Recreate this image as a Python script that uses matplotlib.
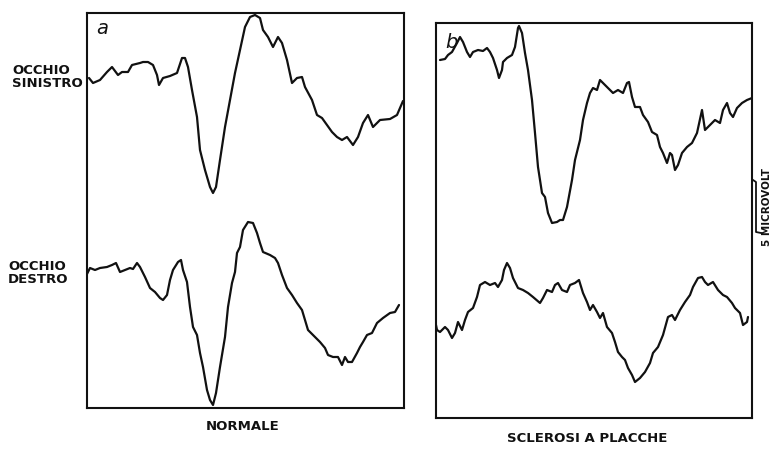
import matplotlib
matplotlib.use("Agg")
import matplotlib.pyplot as plt

# Visual evoked potentials: time from stimulus (ms), amplitude (microvolt)
# Panel a: normal subject
normal_left_t = [2, 6, 13, 20, 25, 31, 35, 41, 45, 53, 56, 61, 66, 70, 72, 76, 83, 90, 95, 98,
                 101, 105, 110, 113, 118, 123, 126, 129, 133, 138, 143, 148, 153, 158, 163, 168,
                 173, 176, 181, 186, 191, 195, 200, 205, 210, 215, 218, 225, 230, 235, 240, 245,
                 250, 255, 260, 266, 271, 276, 281, 286, 293, 303, 310, 316]
normal_left_uv = [0.5, 0.0, 0.3, 1.1, 1.6, 0.8, 1.1, 1.1, 1.8, 2.0, 2.1, 2.1, 1.8, 0.8, -0.2, 0.5,
                  0.7, 1.0, 2.5, 2.5, 1.6, -0.7, -3.4, -6.7, -8.7, -10.4, -11.0, -10.4, -7.7, -4.4,
                  -1.7, 1.0, 3.3, 5.6, 6.6, 6.8, 6.5, 5.3, 4.6, 3.6, 4.6, 4.0, 2.3, 0.0, 0.5, 0.6,
                  -0.4, -1.7, -3.2, -3.5, -4.2, -4.9, -5.4, -5.7, -5.4, -6.2, -5.4, -4.0, -3.2,
                  -4.4, -3.7, -3.6, -3.2, -1.8]

normal_right_t = [0, 3, 8, 13, 20, 25, 29, 33, 38, 43, 46, 50, 53, 58, 63, 68, 73, 76, 80, 83, 86,
                  91, 94, 96, 100, 103, 106, 110, 113, 116, 120, 123, 126, 129, 133, 138, 141, 145,
                  148, 150, 153, 156, 161, 166, 170, 173, 176, 183, 188, 191, 195, 200, 205, 210,
                  215, 218, 221, 226, 233, 238, 241, 246, 251, 255, 258, 261, 265, 270, 273, 276,
                  280, 285, 290, 296, 303, 308, 312]
normal_right_uv = [-0.6, 0.0, -0.2, 0.0, 0.1, 0.3, 0.5, -0.4, -0.2, 0.0, -0.1, 0.5, 0.1, -0.9,
                   -2.0, -2.4, -3.0, -3.2, -2.7, -1.2, -0.2, 0.6, 0.8, -0.2, -1.4, -3.9, -5.9,
                   -6.7, -8.5, -9.9, -12.2, -13.2, -13.7, -12.5, -9.9, -6.9, -3.9, -1.5, -0.4,
                   1.5, 2.1, 3.8, 4.6, 4.5, 3.5, 2.5, 1.6, 1.3, 1.0, 0.5, -0.7, -2.0, -2.7, -3.5,
                   -4.2, -5.2, -6.2, -6.7, -7.4, -8.0, -8.7, -8.9, -8.9, -9.7, -8.9, -9.4, -9.4,
                   -8.5, -7.9, -7.4, -6.7, -6.5, -5.5, -5.0, -4.5, -4.4, -3.7]

# Panel b: multiple sclerosis
ms_left_t = [4, 9, 12, 16, 21, 24, 27, 31, 34, 37, 42, 47, 51, 54, 57, 61, 63, 66, 67, 71, 76,
             79, 82, 83, 86, 89, 92, 96, 99, 102, 106, 109, 112, 116, 121, 124, 127, 131, 136,
             139, 144, 147, 151, 154, 157, 161, 164, 167, 172, 177, 182, 187, 191, 193, 196,
             199, 204, 207, 212, 216, 221, 224, 227, 231, 234, 236, 239, 242, 246, 251, 256,
             261, 266, 269, 274, 279, 284, 287, 291, 294, 297, 301, 306, 311, 316]
ms_left_uv = [0.0, 0.1, 0.5, 0.8, 1.7, 2.3, 1.8, 0.8, 0.3, 0.8, 1.0, 0.9, 1.2, 0.8, 0.2, -1.0,
              -1.8, -1.0, -0.2, 0.2, 0.5, 1.3, 3.2, 3.4, 2.7, 0.7, -1.0, -4.0, -7.3, -10.7,
              -13.3, -13.7, -15.3, -16.3, -16.2, -16.0, -16.0, -14.7, -12.0, -10.0, -8.0, -6.0,
              -4.3, -3.3, -2.8, -3.0, -2.0, -2.3, -2.8, -3.3, -3.0, -3.3, -2.3, -2.2, -3.7,
              -4.7, -4.7, -5.5, -6.2, -7.2, -7.5, -8.7, -9.3, -10.3, -9.3, -9.5, -11.0, -10.5,
              -9.3, -8.7, -8.3, -7.3, -5.0, -7.0, -6.5, -6.0, -6.3, -5.0, -4.3, -5.3, -5.7,
              -4.8, -4.3, -4.0, -3.8]

ms_right_t = [0, 1, 4, 9, 12, 16, 19, 22, 26, 29, 32, 37, 41, 44, 49, 54, 59, 62, 66, 68, 71,
              74, 77, 82, 87, 92, 97, 104, 107, 111, 116, 119, 122, 126, 131, 134, 139, 143,
              147, 151, 154, 157, 161, 164, 167, 171, 176, 179, 182, 186, 189, 192, 196, 199,
              204, 209, 214, 217, 222, 227, 232, 236, 239, 244, 249, 254, 257, 262, 266, 269,
              272, 277, 282, 287, 291, 296, 299, 304, 307, 311, 312]
ms_right_uv = [-0.5, -1.0, -1.2, -0.7, -1.0, -1.8, -1.3, -0.2, -1.0, 0.0, 0.8, 1.2, 2.3, 3.5,
               3.8, 3.5, 3.7, 3.3, 4.0, 5.0, 5.7, 5.2, 4.2, 3.2, 3.0, 2.7, 2.3, 1.7, 2.2, 3.0,
               2.8, 3.5, 3.7, 3.0, 2.8, 3.5, 3.7, 4.0, 2.7, 1.8, 1.0, 1.5, 0.8, 0.2, 0.7, -0.7,
               -1.3, -2.2, -3.2, -3.7, -4.0, -4.8, -5.5, -6.2, -5.8, -5.2, -4.3, -3.3, -2.7,
               -1.5, 0.3, 0.5, 0.0, 1.0, 1.8, 2.5, 3.3, 4.2, 4.3, 3.8, 3.5, 3.8, 3.0, 2.5, 2.3,
               1.7, 1.2, 0.7, -0.5, -0.2, 0.3]

panel_letters = ["a", "b"]
panel_titles = ["NORMALE", "SCLEROSI A PLACCHE"]
eye_labels = ["OCCHIO\nSINISTRO", "OCCHIO\nDESTRO"]
scale_uv = 5
scale_label = "5 MICROVOLT"

ink = "#111111"
lw_trace = 1.6
lw_frame = 1.5
label_font = dict(family="DejaVu Sans", fontweight="bold", color=ink)

fig = plt.figure(figsize=(7.77, 4.5), dpi=100)
fig.patch.set_facecolor("white")

ax_a = fig.add_axes([87 / 777, 42 / 450, 317 / 777, 395 / 450])
ax_b = fig.add_axes([436 / 777, 32 / 450, 316 / 777, 395 / 450])

# vertical offsets (microvolt) that stack the two eyes inside each panel
panels = [
    (ax_a, normal_left_t, normal_left_uv, 32.5, normal_right_t, normal_right_uv, 14.0, 317),
    (ax_b, ms_left_t, ms_left_uv, 35.8, ms_right_t, ms_right_uv, 9.8, 316),
]

for ax, t1, v1, off1, t2, v2, off2, span in panels:
    ax.plot(t1, [v + off1 for v in v1], color=ink, lw=lw_trace,
            solid_joinstyle="round", solid_capstyle="round")
    ax.plot(t2, [v + off2 for v in v2], color=ink, lw=lw_trace,
            solid_joinstyle="round", solid_capstyle="round")
    ax.set_xlim(0, span)
    ax.set_ylim(0, 39.5)
    ax.set_xticks([])
    ax.set_yticks([])
    for s in ax.spines.values():
        s.set_linewidth(lw_frame)
        s.set_color(ink)

# panel letters
ax_a.text(0.03, 0.985, panel_letters[0], transform=ax_a.transAxes, ha="left", va="top",
          fontsize=14, style="italic", color=ink, family="DejaVu Sans")
ax_b.text(0.03, 0.975, panel_letters[1], transform=ax_b.transAxes, ha="left", va="top",
          fontsize=14, style="italic", color=ink, family="DejaVu Sans")

# panel captions
ax_a.text(0.49, -0.03, panel_titles[0], transform=ax_a.transAxes, ha="center", va="top",
          fontsize=9.5, **label_font)
ax_b.text(0.48, -0.035, panel_titles[1], transform=ax_b.transAxes, ha="center", va="top",
          fontsize=9.5, **label_font)

# eye labels to the left of panel a
fig.text(12 / 777, 1 - 77 / 450, eye_labels[0], ha="left", va="center", fontsize=9.5,
         linespacing=1.0, **label_font)
fig.text(8 / 777, 1 - 273 / 450, eye_labels[1], ha="left", va="center", fontsize=9.5,
         linespacing=1.0, **label_font)

# calibration bar, drawn in microvolt on panel b's scale
bar_t = 320
bar_low = 18.6
ax_b.plot([bar_t - 3, bar_t, bar_t, bar_t + 5],
          [bar_low + scale_uv + 0.2, bar_low + scale_uv, bar_low, bar_low - 0.1],
          color=ink, lw=1.3, clip_on=False)
ax_b.text(bar_t + 11, bar_low + scale_uv / 2, scale_label, rotation=90, ha="center",
          va="center", fontsize=7.5, **label_font)

fig.savefig("out.png", dpi=100, facecolor="white")
